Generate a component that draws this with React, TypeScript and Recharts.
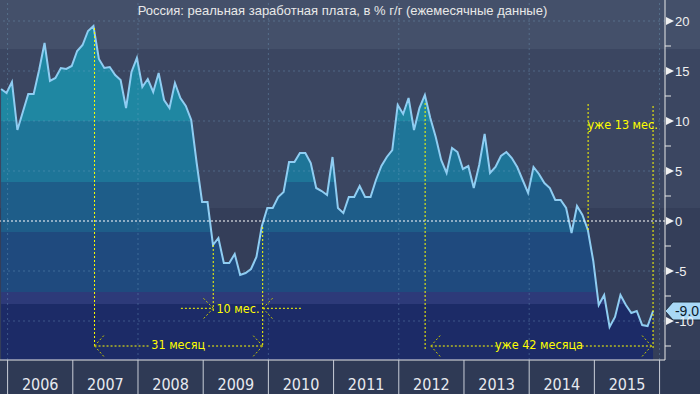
import { AreaChart, Area, XAxis, YAxis, ReferenceLine, ReferenceDot } from 'recharts'

// Россия: реальная заработная плата, % г/г, помесячно с дек. 2005 по дек. 2015
const WAGES = [
  13.2, 12.8, 13.9, 9.1, 10.9, 12.7, 12.7, 15.1, 17.8, 14.0, 14.3, 15.3, 15.2,
  15.5, 17.0, 17.6, 19.0, 19.5, 16.2, 15.3, 15.4, 14.6, 14.1, 11.3, 14.9,
  16.3, 13.4, 14.2, 12.9, 14.8, 12.1, 11.3, 13.8, 12.3, 11.5, 10.1, 5.8,
  1.9, 1.9, -2.4, -1.7, -4.2, -4.2, -3.3, -5.4, -5.2, -4.8, -3.6, -0.5,
  1.3, 1.3, 2.4, 2.9, 5.9, 5.9, 6.8, 6.8, 5.8, 3.3, 3.0, 2.6, 6.4,
  1.3, 0.8, 2.4, 2.4, 3.5, 2.4, 2.4, 4.1, 5.5, 6.4, 7.1, 11.6, 10.7, 12.3,
  9.1, 11.3, 12.6, 10.3, 8.4, 6.1, 4.8, 7.3, 6.9, 5.2, 5.5, 3.3, 5.6, 8.7,
  4.8, 5.4, 6.5, 6.9, 6.3, 5.4, 4.1, 2.8, 5.4, 4.7, 3.8, 3.3, 2.1, 2.1,
  1.3, -1.2, 1.5, 0.6, -0.9, -4.0, -8.4, -7.4, -10.6, -9.6, -7.4, -8.4,
  -9.2, -9.0, -10.4, -10.5, -9.0,
]
const YEARS = ['2006', '2007', '2008', '2009', '2010', '2011', '2012', '2013', '2014', '2015']
const FIRST_JAN = 1.2 // позиция 1 янв. 2006 в индексах месяцев
const Y_TICKS = [-12.5, -10, -7.5, -5, -2.5, 0, 2.5, 5, 7.5, 10, 12.5, 15, 17.5, 20]
const GRID_Y = [20, 15, 10, 5, -5, -10]

// аннотации, в координатах данных
const ANNO_LINES = [
  [[17.2, 19.3], [17.2, -12.5]],
  [[48.15, -0.6], [48.15, -12.5]],
  [[39.05, -2.4], [39.05, -9.2]],
  [[78.05, 11.8], [78.05, -12.8]],
  [[108.05, 11.7], [108.05, -0.9]],
  [[120, 11.5], [120, -12.7]],
  [[17.2, -12.5], [27.2, -12.5]],
  [[38.1, -12.5], [48.15, -12.5]],
  [[33.1, -8.73], [39.05, -8.73]],
  [[48.2, -8.73], [55.2, -8.73]],
  [[79.1, -12.5], [91.3, -12.5]],
  [[106.9, -12.5], [120, -12.5]],
]
const ANNO_ARROWS = [
  [[17.2, -12.5], [19.0, -11.4]], [[17.2, -12.5], [19.0, -13.6]],
  [[48.15, -12.5], [46.3, -11.4]], [[48.15, -12.5], [46.3, -13.6]],
  [[39.05, -8.73], [37.2, -7.7]], [[39.05, -8.73], [37.2, -9.8]],
  [[48.2, -8.73], [50.0, -7.7]], [[48.2, -8.73], [50.0, -9.8]],
  [[79.1, -12.5], [80.9, -11.4]], [[79.1, -12.5], [80.9, -13.6]],
  [[119.7, -12.5], [117.9, -11.4]], [[119.7, -12.5], [117.9, -13.6]],
]
const ANNO_TEXT = [
  { x: 32.6, y: -12.4, text: '31 месяц' },
  { x: 43.6, y: -8.73, text: '10 мес.' },
  { x: 99.0, y: -12.4, text: 'уже 42 месяца' },
  { x: 114.4, y: 9.6, text: 'уже 13 мес.' },
]

const W = 700
const H = 394
const X_AXIS_H = 34
const Y_AXIS_W = 35
const PLOT_H = H - X_AXIS_H
const Y_MIN = -13.9
const Y_MAX = 22.1
const X_MIN = -0.2
const X_MAX = 122.2

const FONT = "'Liberation Sans', Arial, sans-serif"
const NARROW = "'Liberation Sans Narrow', 'Arial Narrow', 'DejaVu Sans Condensed', sans-serif"
const YELLOW = '#ffff00'

const BANDS = [
  { from: Y_MAX, to: 10, color: '#1f87a2' },
  { from: 10, to: 3.9, color: '#1e7598' },
  { from: 3.9, to: -1.1, color: '#1e5d89' },
  { from: -1.1, to: -7.1, color: '#1f4a7e' },
  { from: -7.1, to: -8.3, color: '#2d3a79' },
  { from: -8.3, to: Y_MIN, color: '#1c2b67' },
]
const off = (v: number) => (Y_MAX - v) / (Y_MAX - Y_MIN)

const data = WAGES.map((v, i) => ({ i, v }))
const boundaries = Array.from({ length: YEARS.length + 1 }, (_, k) => FIRST_JAN + 12 * k)
const mids = YEARS.map((_, k) => FIRST_JAN + 6 + 12 * k)
const gridX = boundaries.filter((_, k) => k % 2 === 0)
const last = WAGES[WAGES.length - 1]

function YearTick({ x, y, payload }: any) {
  const k = mids.indexOf(payload.value)
  if (k >= 0) {
    return (
      <text x={x} y={y + 30} textAnchor="middle" fill="#e8eaf0" fontSize={16} fontFamily={NARROW}>
        {YEARS[k]}
      </text>
    )
  }
  return <line x1={x} x2={x} y1={y} y2={H} stroke="#c9ced8" strokeWidth={1} />
}

function ValueTick({ x, y, payload }: any) {
  const v = payload.value
  if (v % 5 !== 0) return <line x1={x} x2={x + 6} y1={y} y2={y} stroke="#e8e8e8" />
  return (
    <g>
      <polygon points={`${x + 1},${y - 4} ${x + 1},${y + 4} ${x + 9},${y}`} fill="#f0f0f0" />
      <text x={x + 10} y={y + 4.5} fill="#f0f0f0" fontSize={13} fontFamily={FONT}>{v}</text>
    </g>
  )
}

function LastTag({ viewBox }: any) {
  if (!viewBox) return null
  const x = viewBox.x + viewBox.width
  const y = viewBox.y
  return (
    <g>
      <polygon
        points={`${x},${y} ${x + 8},${y - 9} ${x + 36},${y - 9} ${x + 36},${y + 9} ${x + 8},${y + 9}`}
        fill="#a9d8f6" stroke="#1d2a3a" strokeWidth={1}
      />
      <text x={x + 22} y={y + 5} textAnchor="middle" fill="#0b1a2b" fontSize={14} fontFamily={FONT}>
        {last.toFixed(1)}
      </text>
    </g>
  )
}

export default function App() {
  return (
    <div
      style={{
        position: 'absolute', left: 0, top: 0, width: W, height: H,
        background: 'linear-gradient(to bottom, #44506a 0px, #44506a 49px, #3b4661 49px, #3b4661 208px, #343e59 208px, #343e59 360px, #2f3a55 360px)',
      }}
    >
      <AreaChart width={W} height={H} data={data} margin={{ top: 0, right: 0, bottom: 0, left: 0 }}>
        <defs>
          <linearGradient id="wageFill" gradientUnits="userSpaceOnUse" x1="0" y1="0" x2="0" y2={PLOT_H}>
            {BANDS.flatMap((b, k) => [
              <stop key={`a${k}`} offset={off(b.from)} stopColor={b.color} />,
              <stop key={`b${k}`} offset={off(b.to)} stopColor={b.color} />,
            ])}
          </linearGradient>
        </defs>
        <XAxis
          dataKey="i" type="number" domain={[X_MIN, X_MAX]} allowDataOverflow
          ticks={[...boundaries, ...mids]} interval={0} tick={<YearTick />}
          tickLine={false} tickSize={0} tickMargin={0} height={X_AXIS_H}
          axisLine={{ stroke: '#e8e8e8' }}
        />
        <YAxis
          orientation="right" type="number" domain={[Y_MIN, Y_MAX]} allowDataOverflow
          ticks={Y_TICKS} interval={0} tick={<ValueTick />} tickLine={false}
          tickSize={0} tickMargin={0} width={Y_AXIS_W} axisLine={{ stroke: '#e8e8e8' }}
        />
        <Area
          type="linear" dataKey="v" baseValue={Y_MIN} stroke="#8fcdf2" strokeWidth={2}
          fill="url(#wageFill)" fillOpacity={1} dot={false} activeDot={false}
          isAnimationActive={false}
        />
        {GRID_Y.map(v => (
          <ReferenceLine key={`gy${v}`} y={v} stroke="rgb(120,170,200)" strokeOpacity={0.35} strokeDasharray="2 3" />
        ))}
        {gridX.map(v => (
          <ReferenceLine key={`gx${v}`} x={v} stroke="rgb(120,170,200)" strokeOpacity={0.35} strokeDasharray="2 3" />
        ))}
        <ReferenceLine y={0} stroke="#ffffff" strokeDasharray="2 2" />
        {ANNO_LINES.map((s, k) => (
          <ReferenceLine
            key={`al${k}`}
            segment={[{ x: s[0][0], y: s[0][1] }, { x: s[1][0], y: s[1][1] }]}
            stroke={YELLOW} strokeDasharray="2 2" ifOverflow="visible"
          />
        ))}
        {ANNO_ARROWS.map((s, k) => (
          <ReferenceLine
            key={`aa${k}`}
            segment={[{ x: s[0][0], y: s[0][1] }, { x: s[1][0], y: s[1][1] }]}
            stroke="#c8c800" strokeDasharray="2 2" ifOverflow="visible"
          />
        ))}
        {ANNO_TEXT.map(t => (
          <ReferenceDot
            key={t.text} x={t.x} y={t.y} r={0} fill="none" stroke="none"
            label={{ value: t.text, position: 'center', fill: YELLOW, fontSize: 12.5, fontFamily: NARROW }}
          />
        ))}
        <ReferenceLine y={last} stroke="none" label={<LastTag />} />
      </AreaChart>
      <div
        style={{
          position: 'absolute', top: 3, left: 0, width: 685, textAlign: 'center',
          fontFamily: FONT, fontSize: 13, color: '#e8e8e8', lineHeight: '16px',
        }}
      >
        Россия: реальная заработная плата, в % г/г (ежемесячные данные)
      </div>
    </div>
  )
}
